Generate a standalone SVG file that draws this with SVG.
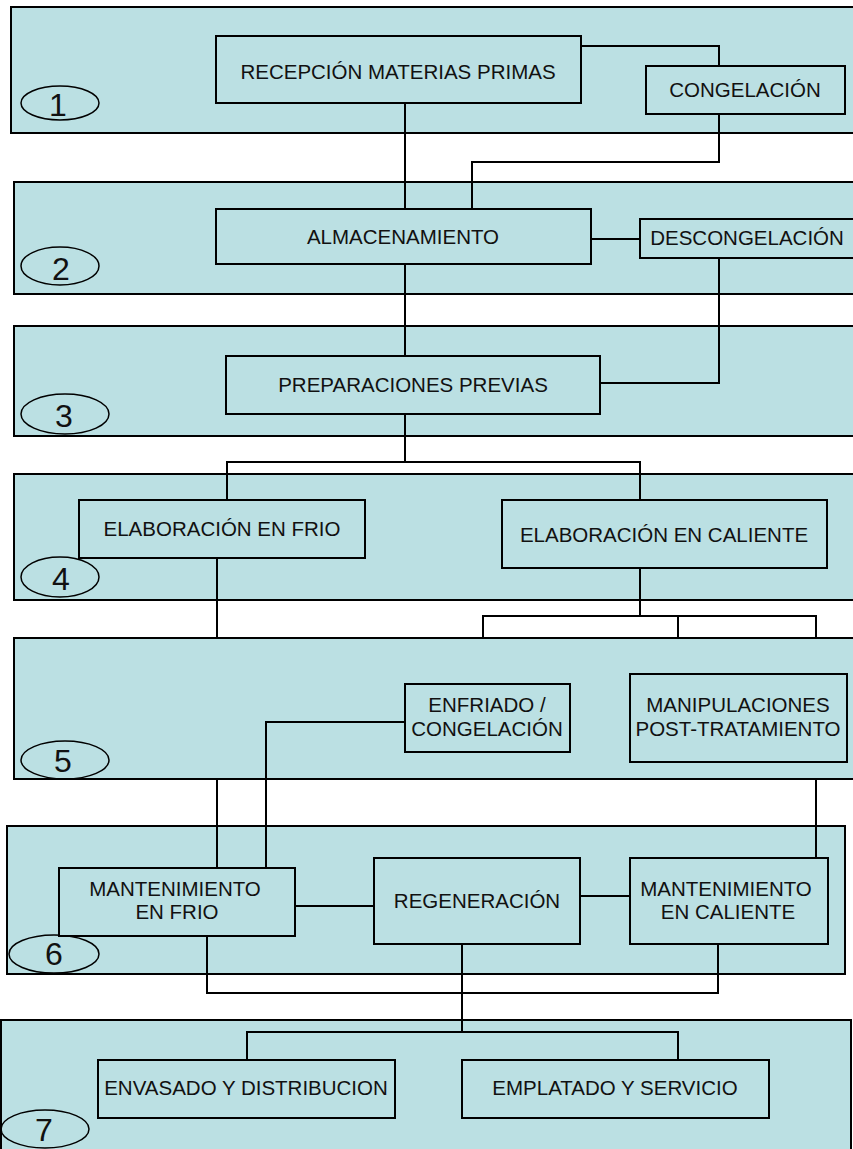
<svg xmlns="http://www.w3.org/2000/svg" width="853" height="1149" viewBox="0 0 853 1149">
<style>
.band{fill:#BBE0E3;stroke:#000;stroke-width:2}
.box{fill:#BBE0E3;stroke:#000;stroke-width:2}
.ell{fill:none;stroke:#000;stroke-width:1.5}
.lbl{font-family:"Liberation Sans",Arial,sans-serif;font-size:20.5px;fill:#111;text-anchor:middle}
.num{font-family:"Liberation Sans",Arial,sans-serif;font-size:32px;fill:#111;text-anchor:middle}
.con{fill:none;stroke:#000;stroke-width:2}
</style>
<rect width="853" height="1149" fill="#fff"/>
<g id="bands">
<g id="band1"><rect class="band" x="11" y="7" width="860" height="126"/><ellipse class="ell" cx="60" cy="103" rx="39" ry="17"/><text class="num" x="58" y="116">1</text></g>
<g id="band2"><rect class="band" x="14" y="182" width="860" height="112"/><ellipse class="ell" cx="60" cy="266" rx="39" ry="19"/><text class="num" x="61" y="280">2</text></g>
<g id="band3"><rect class="band" x="14" y="326" width="860" height="110"/><ellipse class="ell" cx="65" cy="414" rx="44" ry="20"/><text class="num" x="64" y="427">3</text></g>
<g id="band4"><rect class="band" x="14" y="474" width="860" height="126"/><ellipse class="ell" cx="60" cy="577" rx="39" ry="20"/><text class="num" x="61" y="590">4</text></g>
</g>
<g id="connectors">
<path class="con" d="M581,46 H719 V66"/>
<path class="con" d="M405,103 V209"/>
<path class="con" d="M719,114 V162 H472 V209"/>
<path class="con" d="M591,239 H640"/>
<path class="con" d="M405,264 V356"/>
<path class="con" d="M719,258 V383 H600"/>
<path class="con" d="M405,414 V462 M227,500 V462 H640 V500"/>
<path class="con" d="M217,558 V638"/>
<path class="con" d="M640,568 V616 M483,684 V616 H816 V638 M678,616 V674"/>
</g>
<g id="band5"><rect class="band" x="14" y="638" width="860" height="141"/><ellipse class="ell" cx="65" cy="760" rx="44" ry="19"/><text class="num" x="63" y="772">5</text></g>
<g id="band6"><rect class="band" x="7" y="826" width="838" height="148"/><ellipse class="ell" cx="54" cy="954" rx="45" ry="19"/><text class="num" x="54" y="965">6</text></g>
<g id="band7"><rect class="band" x="1" y="1020" width="850" height="140"/><ellipse class="ell" cx="45" cy="1129" rx="44" ry="19"/><text class="num" x="44" y="1141">7</text></g>
<g id="connectors2">
<path class="con" d="M217,779 V868"/>
<path class="con" d="M816,779 V858"/>
<path class="con" d="M405,722 H266 V868"/>
<path class="con" d="M295,906 H374"/>
<path class="con" d="M580,896 H630"/>
<path class="con" d="M207,936 V993 H718 V944"/>
<path class="con" d="M462,944 V1032 M247,1060 V1032 H678 V1060"/>
</g>
<g id="recepcion"><rect class="box" x="216" y="36" width="365" height="67"/><text class="lbl" x="398" y="79">RECEPCIÓN MATERIAS PRIMAS</text></g>
<g id="congelacion"><rect class="box" x="646" y="66" width="199" height="48"/><text class="lbl" x="745" y="97">CONGELACIÓN</text></g>
<g id="almacenamiento"><rect class="box" x="216" y="209" width="375" height="55"/><text class="lbl" x="403" y="244">ALMACENAMIENTO</text></g>
<g id="descongelacion"><rect class="box" x="640" y="219" width="216" height="39"/><text class="lbl" x="747" y="245">DESCONGELACIÓN</text></g>
<g id="preparaciones"><rect class="box" x="226" y="356" width="374" height="58"/><text class="lbl" x="413" y="392">PREPARACIONES PREVIAS</text></g>
<g id="elab-frio"><rect class="box" x="79" y="500" width="286" height="58"/><text class="lbl" x="222" y="536">ELABORACIÓN EN FRIO</text></g>
<g id="elab-caliente"><rect class="box" x="502" y="500" width="325" height="68"/><text class="lbl" x="664" y="542">ELABORACIÓN EN CALIENTE</text></g>
<g id="enfriado"><rect class="box" x="405" y="684" width="165" height="68"/><text class="lbl" x="487" y="712">ENFRIADO /</text><text class="lbl" x="487" y="736">CONGELACIÓN</text></g>
<g id="manipulaciones"><rect class="box" x="630" y="674" width="217" height="88"/><text class="lbl" x="738" y="712">MANIPULACIONES</text><text class="lbl" x="738" y="736">POST-TRATAMIENTO</text></g>
<g id="mant-frio"><rect class="box" x="59" y="868" width="236" height="68"/><text class="lbl" x="175" y="896">MANTENIMIENTO</text><text class="lbl" x="177" y="919">EN FRIO</text></g>
<g id="regeneracion"><rect class="box" x="374" y="858" width="206" height="86"/><text class="lbl" x="477" y="908">REGENERACIÓN</text></g>
<g id="mant-caliente"><rect class="box" x="630" y="858" width="198" height="86"/><text class="lbl" x="726" y="896">MANTENIMIENTO</text><text class="lbl" x="728" y="919">EN CALIENTE</text></g>
<g id="envasado"><rect class="box" x="98" y="1060" width="297" height="58"/><text class="lbl" x="246" y="1095">ENVASADO Y DISTRIBUCION</text></g>
<g id="emplatado"><rect class="box" x="462" y="1060" width="307" height="58"/><text class="lbl" x="615" y="1095">EMPLATADO Y SERVICIO</text></g>
</svg>
